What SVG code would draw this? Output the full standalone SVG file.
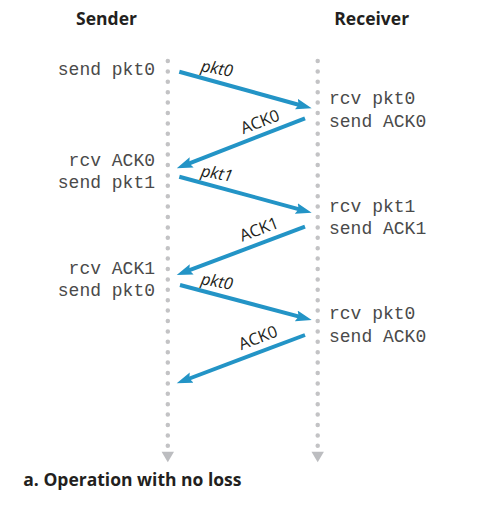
<svg xmlns="http://www.w3.org/2000/svg" width="491" height="517" viewBox="0 0 491 517">
<style>
.hdr{font-family:"Open Sans","Noto Sans",sans-serif;font-weight:700;font-size:17.5px;fill:#231f20;text-anchor:middle}
.mono{font-family:"Liberation Mono","DejaVu Sans Mono",monospace;font-size:18px;fill:#4a4a4a}
.lbl{font-family:"Open Sans","Noto Sans",sans-serif;font-size:16.5px;fill:#231f20;text-anchor:middle}
.it{font-style:italic}
.life{stroke:#c3c3c5;stroke-width:4.5;stroke-linecap:round;stroke-dasharray:0 10.4;fill:none}
.tri{fill:#bcbdc0}
.msg{stroke:#2394c6;stroke-width:4;fill:none;marker-end:url(#ah)}
</style>
<defs>
<marker id="ah" markerUnits="userSpaceOnUse" markerWidth="18" markerHeight="12" refX="8" refY="5.5" orient="auto" viewBox="0 0 18 12">
<path d="M0,0 L16,5.5 L0,11 L2.5,5.5 Z" fill="#2394c6"/>
</marker>
</defs>
<rect width="491" height="517" fill="#ffffff"/>
<g id="sender">
<text class="hdr" x="106.5" y="24.5">Sender</text>
<line class="life" x1="167.8" y1="61" x2="167.8" y2="446"/>
<polygon class="tri" points="161.6,451.7 174,451.7 167.8,462.3"/>
<text class="mono" x="155" y="75" text-anchor="end">send pkt0</text>
<text class="mono" x="155" y="165.7" text-anchor="end">rcv ACK0</text>
<text class="mono" x="155" y="187.7" text-anchor="end">send pkt1</text>
<text class="mono" x="155" y="274" text-anchor="end">rcv ACK1</text>
<text class="mono" x="155" y="296" text-anchor="end">send pkt0</text>
</g>
<g id="receiver">
<text class="hdr" x="371.7" y="24.5">Receiver</text>
<line class="life" x1="317.7" y1="61" x2="317.7" y2="446"/>
<polygon class="tri" points="311.5,451.7 323.9,451.7 317.7,462.3"/>
<text class="mono" x="329" y="103.5">rcv pkt0</text>
<text class="mono" x="329" y="126.5">send ACK0</text>
<text class="mono" x="329" y="211.7">rcv pkt1</text>
<text class="mono" x="329" y="234">send ACK1</text>
<text class="mono" x="329" y="319.3">rcv pkt0</text>
<text class="mono" x="329" y="341.7">send ACK0</text>
</g>
<g id="connectors">
<line class="msg" x1="179.3" y1="71.7" x2="304" y2="106.2"/>
<line class="msg" x1="305" y1="118.3" x2="184.2" y2="165.4"/>
<line class="msg" x1="179.3" y1="176.7" x2="304" y2="210.6"/>
<line class="msg" x1="305" y1="226.7" x2="184.2" y2="272.2"/>
<line class="msg" x1="180" y1="285" x2="304" y2="317.9"/>
<line class="msg" x1="305" y1="335" x2="184.2" y2="380.5"/>
<text class="lbl it" transform="translate(216,74) rotate(10)">pkt0</text>
<text class="lbl" transform="translate(262,127) rotate(-21)">ACK0</text>
<text class="lbl it" transform="translate(216,179) rotate(10)">pkt1</text>
<text class="lbl" transform="translate(261,234.5) rotate(-21)">ACK1</text>
<text class="lbl it" transform="translate(216,287) rotate(10)">pkt0</text>
<text class="lbl" transform="translate(260,343) rotate(-21)">ACK0</text>
</g>
<g id="caption">
<text class="hdr" x="23.3" y="486" text-anchor="start" style="text-anchor:start">a. Operation with no loss</text>
</g>
</svg>
